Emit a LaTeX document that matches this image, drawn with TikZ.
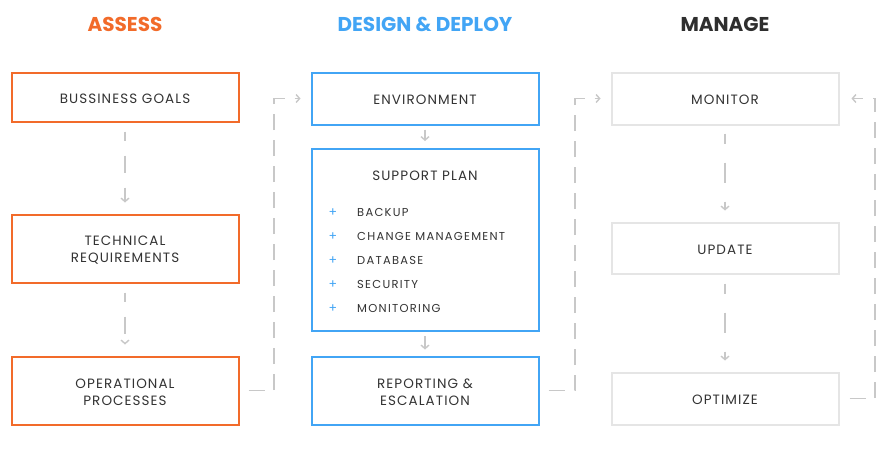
\documentclass[tikz,border=0pt]{standalone}
\usepackage{fontspec}
\setmainfont{Poppins}
\usetikzlibrary{arrows.meta}
\definecolor{aorange}{HTML}{F26B2A}
\definecolor{dblue}{HTML}{42A5F5}
\definecolor{mgray}{HTML}{E5E5E5}
\definecolor{cgray}{HTML}{C8C8C8}
\definecolor{txt}{HTML}{333333}
\definecolor{hdark}{HTML}{2E2E2E}
\begin{document}
\begin{tikzpicture}[x=1pt,y=-1pt,
  box/.style={draw, line width=2pt, minimum width=227pt, text=txt,
    font=\fontsize{13.5}{17}\selectfont\addfontfeature{LetterSpace=8},
    align=center, inner sep=0pt, text height=12.5pt},
  twoline/.style={text height=30.5pt},
  abox/.style={box, draw=aorange},
  dbox/.style={box, draw=dblue},
  mbox/.style={box, draw=mgray},
  head/.style={anchor=base, font=\fontsize{20}{24}\selectfont\bfseries},
  tip/.style={-{Straight Barb[length=3.5pt,width=8pt,line width=1.4pt]}},
  conn/.style={draw=cgray, line width=1.6pt, tip},
  aconn/.style={conn, dash pattern=on 17pt off 15pt, dash phase=8pt},
  mconn/.style={conn, dash pattern=on 20pt off 19pt, dash phase=10pt},
  lconn/.style={conn, dash pattern=on 16pt off 10pt},
  item/.style={anchor=base west, inner sep=0pt, text=txt,
    font=\fontsize{11.5}{14}\selectfont\addfontfeature{LetterSpace=11}},
  plus/.style={anchor=base, inner sep=0pt, text=dblue, font=\fontsize{12.5}{14}\selectfont}
]
\useasboundingbox (0,0) rectangle (888,448);
\fill[white] (0,0) rectangle (888,448);

% headers
\node[head, text=aorange] (h1) at (125,31) {ASSESS};
\node[head, text=dblue] (h2) at (425,31) {DESIGN \& DEPLOY};
\node[head, text=hdark] (h3) at (725,31) {MANAGE};

% assess column
\node[abox, minimum height=49pt] (bg) at (125,97) {BUSSINESS GOALS};
\node[abox, twoline, minimum height=68pt] (tr) at (125,248.5) {TECHNICAL\\REQUIREMENTS};
\node[abox, twoline, minimum height=68pt] (op) at (125,390.5) {OPERATIONAL\\PROCESSES};

% design column
\node[dbox, minimum height=52pt] (env) at (425,98.5) {ENVIRONMENT};
\node[dbox, minimum height=182pt] (sp) at (425,240) {};
\node[anchor=base, inner sep=0pt, text=txt,
  font=\fontsize{13.5}{17}\selectfont\addfontfeature{LetterSpace=8}] (spt) at (425,180) {SUPPORT PLAN};
\node[plus] (p1) at (333,216) {+};
\node[plus] (p2) at (333,240) {+};
\node[plus] (p3) at (333,264) {+};
\node[plus] (p4) at (333,288) {+};
\node[plus] (p5) at (333,312) {+};
\node[item] (i1) at (357,216) {BACKUP};
\node[item] (i2) at (357,240) {CHANGE MANAGEMENT};
\node[item] (i3) at (357,264) {DATABASE};
\node[item] (i4) at (357,288) {SECURITY};
\node[item] (i5) at (357,312) {MONITORING};
\node[dbox, twoline, minimum height=68pt] (rep) at (425,390.5) {REPORTING \&\\ESCALATION};

% manage column
\node[mbox, minimum height=52pt] (mon) at (725,98.5) {MONITOR};
\node[mbox, minimum height=51pt] (upd) at (725,248) {UPDATE};
\node[mbox, minimum height=52pt] (opt) at (725,398.5) {OPTIMIZE};

% vertical connectors
\draw[aconn] ([yshift=-9pt]bg.south) -- ([yshift=11pt]tr.north);
\draw[aconn] ([yshift=-9pt]tr.south) -- ([yshift=11pt]op.north);
\draw[conn] ([yshift=-4pt]env.south) -- ([yshift=7pt]sp.north);
\draw[conn] ([yshift=-4pt]sp.south) -- ([yshift=6pt]rep.north);
\draw[mconn] ([yshift=-8pt]mon.south) -- ([yshift=11pt]upd.north);
\draw[mconn] ([yshift=-9pt]upd.south) -- ([yshift=11pt]opt.north);

% long connectors
\coordinate (c1) at (274,390.5);
\coordinate (c2) at (575,390.5);
\coordinate (c3) at (875,398.5);
\draw[lconn] ([xshift=9pt]op.east) -- (c1) |- ([xshift=-10pt]env.west);
\draw[lconn] ([xshift=9pt]rep.east) -- (c2) |- ([xshift=-10pt]mon.west);
\draw[lconn] ([xshift=10pt]opt.east) -- (c3) |- ([xshift=12pt]mon.east);
\end{tikzpicture}
\end{document}
